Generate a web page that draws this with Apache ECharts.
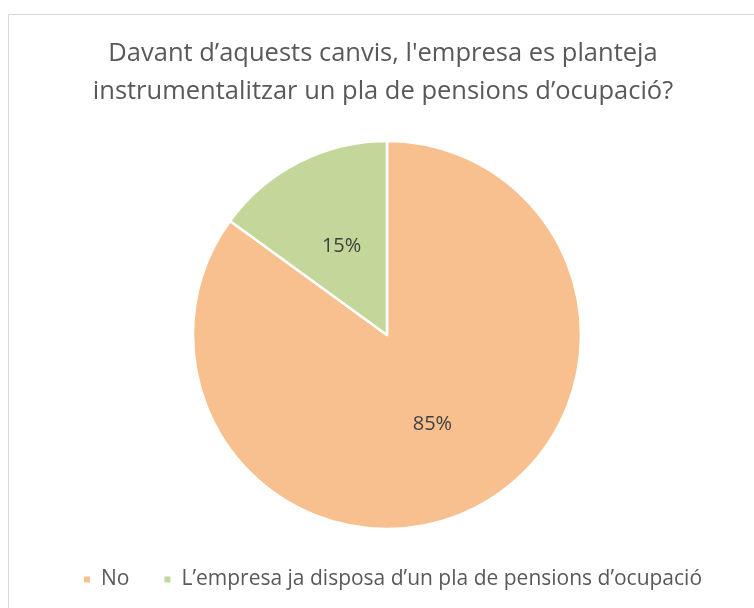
<!DOCTYPE html>
<html>
<head>
<meta charset="utf-8">
<script src="https://cdn.jsdelivr.net/npm/echarts@6/dist/echarts.min.js"></script>
<style>
  html, body { margin: 0; padding: 0; background: #fff; }
  #chart { width: 754px; height: 608px; }
</style>
</head>
<body>
<div id="chart"></div>
<script>
// dades del gràfic
const categories = ['No', 'L\u2019empresa ja disposa d\u2019un pla de pensions d\u2019ocupació'];
const values = [85, 15];
const colors = ['#F8C08F', '#C4D79B'];
const titleText = 'Davant d\u2019aquests canvis, l\'empresa es planteja\ninstrumentalitzar un pla de pensions d\u2019ocupació?';

const chart = echarts.init(document.getElementById('chart'));
const fontFamily = 'Open Sans';

let option = {
  animation: false,
  title: {
    text: titleText,
    left: 378,
    textAlign: 'center',
    top: 30,
    textStyle: {
      fontFamily: fontFamily,
      fontSize: 25.5,
      fontWeight: 'normal',
      color: '#595959',
      lineHeight: 38
    }
  },
  legend: {
    bottom: 13,
    left: 77,
    itemWidth: 8,
    itemHeight: 8,
    itemGap: 33,
    icon: 'rect',
    textStyle: {
      fontFamily: fontFamily,
      fontSize: 21,
      color: '#595959',
      padding: [0, 0, 0, 5]
    },
    data: categories
  },
  graphic: [{
    type: 'rect',
    shape: { x: 8.5, y: 14.5, width: 800, height: 700 },
    style: { fill: 'none', stroke: '#d9d9d9', lineWidth: 1 },
    silent: true
  }],
  series: [{
    type: 'pie',
    center: [387, 335],
    radius: [0, 194],
    startAngle: 90,
    clockwise: true,
    data: categories.map((c, i) => ({
      name: c,
      value: values[i],
      itemStyle: { color: colors[i] }
    })),
    itemStyle: {
      borderColor: '#ffffff',
      borderWidth: 2.5
    },
    label: {
      show: true,
      position: 'inside',
      formatter: '{d}%',
      fontFamily: fontFamily,
      fontSize: 20,
      color: '#404040'
    },
    labelLine: { show: false },
    emphasis: { disabled: true }
  }]
};

chart.setOption(option);
</script>
</body>
</html>
